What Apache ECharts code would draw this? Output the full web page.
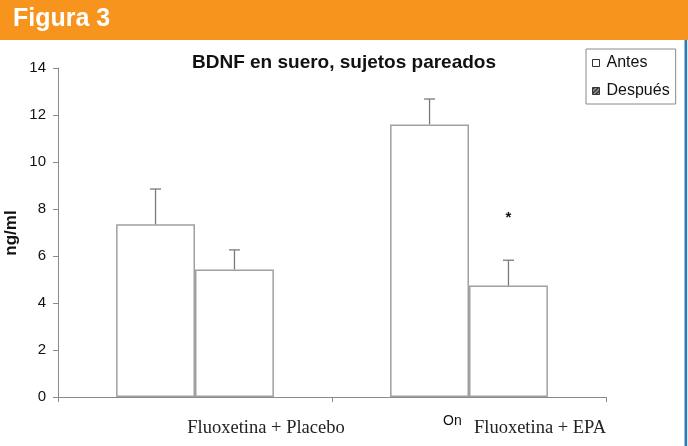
<!DOCTYPE html>
<html>
<head>
<meta charset="utf-8">
<script src="https://cdn.jsdelivr.net/npm/echarts@6/dist/echarts.min.js"></script>
<style>
  html, body { margin: 0; padding: 0; background: #fff; }
  #chart { width: 688px; height: 446px; }
</style>
</head>
<body>
<div id="chart"></div>
<script>
// Serum BDNF, paired subjects: mean and upper error bar per group
const categories = ['Fluoxetina + Placebo', 'Fluoxetina + EPA'];
const antes = [7.35, 11.6];
const antesErr = [8.85, 12.68];
const despues = [5.43, 4.74];
const despuesErr = [6.26, 5.82];
const significance = [null, 7.72];   // position of the "*" marker
const yTicks = [0, 2, 4, 6, 8, 10, 12, 14];

// small hatch pattern for the "Después" legend key
function hatchPattern() {
  const c = document.createElement('canvas');
  c.width = 4; c.height = 4;
  const g = c.getContext('2d');
  g.fillStyle = '#333';
  g.fillRect(0, 0, 4, 4);
  g.strokeStyle = '#fff';
  g.lineWidth = 1;
  g.beginPath();
  g.moveTo(0, 4); g.lineTo(4, 0);
  g.stroke();
  return c;
}

const BAR_FRAC = 0.288;
const SANS = 'Liberation Sans, Arial, sans-serif';

function errorBarSeries(name, values, tops, side) {
  return {
    type: 'custom',
    name: name + ' error',
    z: 3,
    silent: true,
    data: values.map((v, i) => [i, v, tops[i]]),
    renderItem: function (params, api) {
      const cat = api.value(0);
      const base = api.coord([cat, api.value(1)]);
      const top = api.coord([cat, api.value(2)]);
      const catW = api.size([1, 0])[0];
      const bw = catW * BAR_FRAC;
      const x = base[0] + side * bw / 2;
      const cap = 5.5;
      const style = { stroke: '#7a7a7a', lineWidth: 1.3 };
      return {
        type: 'group',
        children: [
          { type: 'line', shape: { x1: x, y1: base[1], x2: x, y2: top[1] }, style: style },
          { type: 'line', shape: { x1: x - cap, y1: top[1], x2: x + cap, y2: top[1] }, style: style }
        ]
      };
    }
  };
}

const chart = echarts.init(document.getElementById('chart'), null, { renderer: 'canvas' });

const option = {
  animation: false,
  backgroundColor: '#fff',
  title: {
    text: 'BDNF en suero, sujetos pareados',
    left: 344,
    textAlign: 'center',
    top: 53,
    padding: 0,
    textStyle: { fontFamily: SANS, fontSize: 19, fontWeight: 'bold', color: '#111' }
  },
  legend: {
    orient: 'vertical',
    left: 586,
    top: 49,
    width: 89,
    padding: [6, 6, 5, 6],
    itemGap: 12,
    itemWidth: 7,
    itemHeight: 7,
    borderColor: '#8a8a8a',
    borderWidth: 1,
    backgroundColor: '#fff',
    textStyle: { fontFamily: SANS, fontSize: 16, color: '#111', padding: [0, 0, 0, 2] },
    data: [
      { name: 'Antes', icon: 'rect', itemStyle: { color: '#fff', borderColor: '#333', borderWidth: 1 } },
      { name: 'Después', icon: 'rect', itemStyle: { color: { image: hatchPattern(), repeat: 'repeat' }, borderColor: '#333', borderWidth: 1 } }
    ]
  },
  grid: { left: 58, right: 82, top: 68, bottom: 49 },
  xAxis: {
    type: 'category',
    data: categories,
    axisLine: { lineStyle: { color: '#8a8a8a', width: 1 } },
    axisTick: { show: true, length: 5, alignWithLabel: false, lineStyle: { color: '#8a8a8a' } },
    axisLabel: {
      margin: 22,
      fontFamily: 'Liberation Serif, Times New Roman, serif',
      fontSize: 18.5,
      color: '#222',
      padding: [0, 0, 0, 142]
    }
  },
  yAxis: {
    type: 'value',
    min: yTicks[0],
    max: yTicks[yTicks.length - 1],
    interval: 2,
    splitLine: { show: false },
    axisLine: { show: true, lineStyle: { color: '#8a8a8a', width: 1 } },
    axisTick: { show: true, length: 5, lineStyle: { color: '#8a8a8a' } },
    axisLabel: { margin: 12, fontFamily: SANS, fontSize: 15, color: '#111' }
  },
  series: [
    {
      name: 'Antes',
      type: 'bar',
      data: antes,
      barWidth: (BAR_FRAC * 100) + '%',
      barGap: '0%',
      itemStyle: { color: '#fff', borderColor: '#a0a0a0', borderWidth: 1.5 },
      z: 2
    },
    {
      name: 'Después',
      type: 'bar',
      data: despues,
      barWidth: (BAR_FRAC * 100) + '%',
      barGap: '0%',
      itemStyle: { color: '#fff', borderColor: '#a0a0a0', borderWidth: 1.5 },
      z: 2
    },
    errorBarSeries('Antes', antes, antesErr, -1),
    errorBarSeries('Después', despues, despuesErr, 1),
    {
      type: 'custom',
      name: 'significance',
      silent: true,
      z: 4,
      data: significance.map((v, i) => v == null ? [i, NaN] : [i, v]),
      renderItem: function (params, api) {
        const v = api.value(1);
        if (isNaN(v)) return null;
        const p = api.coord([api.value(0), v]);
        const bw = api.size([1, 0])[0] * BAR_FRAC;
        return {
          type: 'text',
          style: {
            text: '*', x: p[0] + bw / 2, y: p[1] + 2,
            align: 'center', verticalAlign: 'middle',
            font: 'bold 15px ' + SANS, fill: '#111'
          }
        };
      }
    }
  ],
  graphic: [
    { type: 'rect', left: 0, top: 0, shape: { width: 688, height: 40 }, style: { fill: '#F7941E' }, z: 0 },
    { type: 'text', left: 13, top: 7, style: { text: 'Figura 3', font: 'bold 25px ' + SANS, fill: '#fff' } },
    { type: 'rect', left: 684.5, top: 40, shape: { width: 2.7, height: 406 }, style: { fill: '#2A7AB8' } },
    { type: 'text', left: 443, top: 414, style: { text: 'On', font: '14px ' + SANS, fill: '#111' } },
    { type: 'text', x: 11, y: 233, rotation: Math.PI / 2, style: { text: 'ng/ml', font: 'bold 17px ' + SANS, fill: '#111', align: 'center', verticalAlign: 'middle' } }
  ]
};

chart.setOption(option);
</script>
</body>
</html>
